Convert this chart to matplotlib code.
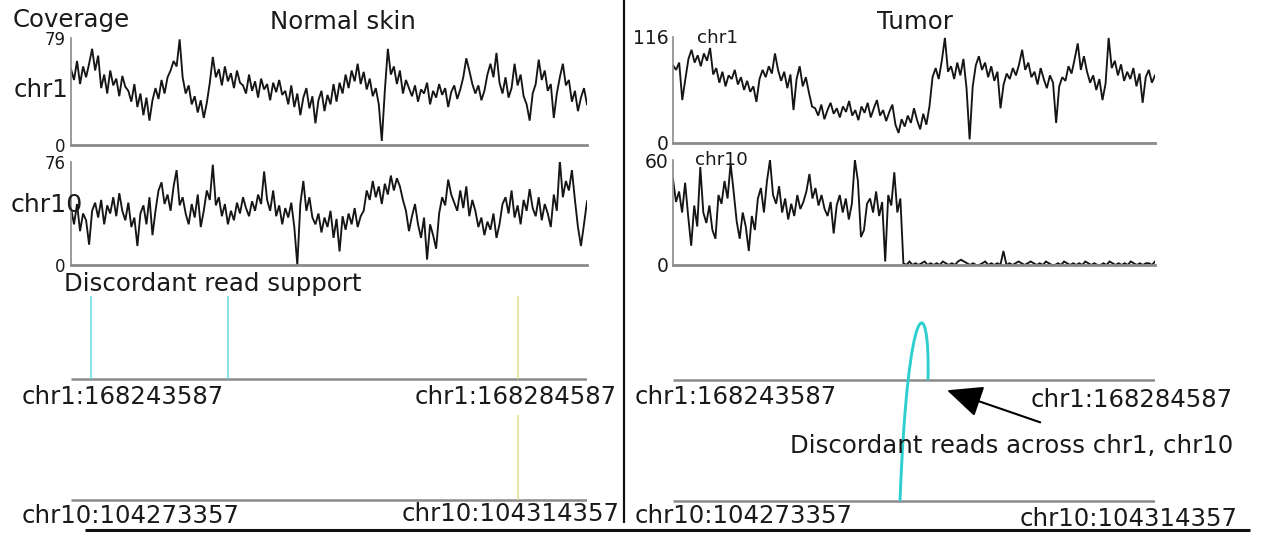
import numpy as np
import matplotlib
matplotlib.use("Agg")
import matplotlib.pyplot as plt
from matplotlib.path import Path
from matplotlib.patches import PathPatch

# ---------------------------------------------------------------- data
chr1_window = (168243587, 168284587)
chr10_window = (104273357, 104314357)

normal_chr1_max = 79
normal_chr10_max = 76
tumor_chr1_max = 116
tumor_chr10_max = 60

normal_chr1_cov = [
    56, 48, 62, 45, 58, 50, 60, 71, 55, 66, 42, 52, 38, 55, 44, 49, 36, 51, 43,
    40, 32, 45, 28, 38, 22, 35, 18, 33, 42, 34, 48, 38, 50, 55, 62, 58, 78,
    50, 38, 44, 30, 36, 24, 33, 20, 31, 46, 65, 50, 56, 44, 58, 47, 53, 42, 55, 46,
    44, 38, 52, 40, 47, 35, 49, 41, 45, 33, 46, 39, 48, 37,
    40, 30, 44, 28, 38, 22, 35, 42, 27, 36, 16, 33, 40, 25, 37, 30, 45, 32,
    46, 38, 52, 42, 55, 47, 60, 45, 54, 41, 49, 36, 42, 30, 3, 40, 71, 52, 58,
    45, 55, 38, 48, 42, 36, 44, 32, 41, 38, 46, 30, 40, 35, 45, 37, 42, 28, 39, 44, 34, 41,
    50, 64, 55, 45, 38, 44, 33, 40, 52, 60, 50, 68, 46, 38, 50, 35, 42,
    60, 44, 52, 36, 30, 18, 38, 45, 63, 48, 55, 40, 45, 20, 38, 50,
    60, 44, 48, 32, 40, 25, 35, 42, 30,
]

normal_chr10_cov = [
    42, 30, 45, 25, 38, 33, 15, 40, 46, 35, 48, 30, 44, 38, 50,
    36, 53, 40, 33, 46, 28, 35, 14, 38, 44, 30, 50, 22, 40,
    55, 61, 45, 52, 40, 58, 70, 44, 50, 38, 30, 45, 35, 52, 28, 40,
    55, 48, 74, 44, 50, 36, 45, 30, 40, 33, 46, 38, 50, 42, 36, 47,
    40, 52, 45, 69, 48, 40, 55, 36, 44, 30, 42, 35, 46, 28, 0, 45,
    62, 40, 50, 35, 30, 38, 24, 35, 28, 40, 20, 34, 10, 36, 26, 38, 30, 42, 28, 36,
    40, 55, 48, 62, 50, 58, 45, 60, 52, 66, 55, 64, 58, 48, 40, 25, 36, 45, 30, 20,
    35, 4, 30, 22, 12, 38, 50, 44, 63, 52, 46, 40, 55, 42, 58, 36, 48, 40,
    28, 35, 22, 32, 26, 38, 20, 30, 45,
    50, 38, 55, 35, 44, 30, 48, 40, 56, 42, 36, 50, 33, 45, 38, 28, 52, 40,
    77, 50, 62, 55, 70, 48, 28, 14, 30, 47,
]

tumor_chr1_cov = [
    85, 80, 88, 47, 70, 92, 102, 88, 96, 84, 98, 90, 104,
    75, 82, 66, 78, 62, 74, 70, 80, 64, 72, 58, 68, 56, 62, 45,
    70, 80, 72, 84, 76, 98, 80, 68, 78, 60, 75, 36, 70, 84, 62, 72, 55, 40,
    38, 30, 42, 26, 36, 44, 32, 38, 28, 40, 34, 46, 30, 36, 25, 40, 33, 44, 28, 38,
    47, 30, 36, 24, 34, 42,
    20, 11, 26, 18, 30, 22, 38, 25, 15, 32, 20, 40,
    72, 82, 70, 90, 115, 78, 84, 70, 88, 74, 92, 60, 4, 62, 85,
    95, 80, 88, 72, 84, 68, 78, 38, 64, 76, 70, 82, 74, 86,
    102, 80, 88, 72, 78, 64, 82, 70, 60, 74, 66, 22, 62,
    72, 68, 84, 76, 92, 109, 80, 95, 78, 66, 74, 58, 70, 47, 65,
    115, 82, 90, 74, 86, 68, 78, 70, 82, 62, 76, 44, 72, 80, 66, 74,
]

tumor_chr10_cov = [
    49, 36, 42, 30, 47, 28, 11, 34, 22, 56, 30, 24, 34, 20, 15,
    40, 35, 48, 38, 58, 42, 25, 15, 30, 22, 8, 28, 20,
    38, 44, 30, 48, 60, 40, 35, 45, 30, 38, 26, 35, 28, 40, 32, 36, 42,
    52, 38, 44, 34, 40, 32, 28, 36, 18, 34, 40, 30, 38, 26, 35,
    60, 48, 16, 20, 35, 38, 30, 42, 28, 36, 2, 40, 34, 53, 30, 38,
    1, 0, 2, 0, 1, 0, 1, 2, 0, 1, 0, 1, 0, 2, 1, 0, 1, 0, 2, 3, 2, 1, 0, 1,
    0, 0, 1, 2, 0, 1, 0, 1, 0, 8, 0, 1, 0, 1, 2, 1, 0, 1, 2, 1, 0, 1, 0, 2,
    1, 0, 0, 1, 0, 2, 1, 0, 1, 0, 1, 0, 2, 1, 0, 1, 0, 0, 1, 0, 2, 1, 0, 1,
    0, 1, 0, 2, 1, 0, 1, 0, 1, 1, 0, 2,
]

# discordant read positions in the normal sample
normal_chr1_cross_reads = [168245177, 168256062]   # cyan: pairs to other chromosome
normal_chr1_local_reads = [168279104]              # yellow
normal_chr10_local_reads = [104308874]             # yellow

# junction supported by discordant pairs in the tumor
tumor_junction_chr1 = 168265277
tumor_junction_chr10 = 104292667

# ---------------------------------------------------------------- layout helpers
W, H = 1263, 533
fig = plt.figure(figsize=(W / 100, H / 100), dpi=100)
plt.rcParams["font.family"] = ["DejaVu Sans"]

TXT = "#1a1a1a"
AXGREY = "#8a8a8a"
CYAN = "#62dbe0"
ARC = "#2fcfcf"
YELLOW = "#e4df8c"
BIG = 17.6


def fx(px):
    return px / W


def fy(py):
    return 1 - py / H


def add_box(left, right, top, bottom):
    return fig.add_axes([fx(left), fy(bottom), fx(right) - fx(left), fy(top) - fy(bottom)])


def coverage_panel(box, window, values, ymax, tick_size, pad):
    ax = add_box(*box)
    x = np.linspace(window[0], window[1], len(values))
    ax.plot(x, values, color="#151515", lw=1.35, solid_joinstyle="miter")
    ax.set_xlim(window)
    ax.set_ylim(0, ymax)
    ax.set_xticks([])
    ax.set_yticks([0, ymax])
    ax.set_yticklabels(["0", str(ymax)], fontsize=tick_size, color=TXT)
    ax.tick_params(axis="y", length=0, pad=pad)
    for side in ("top", "right"):
        ax.spines[side].set_visible(False)
    ax.spines["left"].set_color(AXGREY)
    ax.spines["left"].set_linewidth(1.2)
    ax.spines["bottom"].set_color(AXGREY)
    ax.spines["bottom"].set_linewidth(2.0)
    ax.patch.set_alpha(0)
    return ax


# ---------------------------------------------------------------- coverage tracks
coverage_panel((71, 587, 38, 145), chr1_window, normal_chr1_cov, normal_chr1_max, 12, 4)
coverage_panel((71, 587, 162, 265), chr10_window, normal_chr10_cov, normal_chr10_max, 12, 4)
coverage_panel((673, 1155, 37, 143), chr1_window, tumor_chr1_cov, tumor_chr1_max, 13.5, 3)
coverage_panel((673, 1155, 160, 265), chr10_window, tumor_chr10_cov, tumor_chr10_max, 13.5, 3)

# ---------------------------------------------------------------- discordant read panels
# one axes per sample: chr10 baseline at y=0, chr1 baseline at y=1
SPAN = chr1_window[1] - chr1_window[0]
Y0, Y1 = -0.1, 1.75
row_px = 121.0


def discordant_axes(left, right, y_chr1_px):
    top = y_chr1_px - (Y1 - 1) * row_px
    bottom = y_chr1_px + (1 - Y0) * row_px
    ax = add_box(left, right, top, bottom)
    ax.set_xlim(0, SPAN)
    ax.set_ylim(Y0, Y1)
    ax.axis("off")
    ax.hlines([1, 0], 0, SPAN, color=AXGREY, lw=1.8, zorder=1)
    return ax


axL = discordant_axes(71, 587, 379)
axL.vlines([p - chr1_window[0] for p in normal_chr1_cross_reads], 1, 1.69, color=CYAN, lw=1.1)
axL.vlines([p - chr1_window[0] for p in normal_chr1_local_reads], 1, 1.69, color=YELLOW, lw=1.1)
axL.vlines([p - chr10_window[0] for p in normal_chr10_local_reads], 0, 0.70, color=YELLOW, lw=1.1)

axR = discordant_axes(673, 1155, 380)
j1 = tumor_junction_chr1 - chr1_window[0]
j10 = tumor_junction_chr10 - chr10_window[0]
arc = Path(
    [(j10, 0.0), (j10 + 680, 1.744), (j1 + 200, 1.744), (j1, 1.0)],
    [Path.MOVETO, Path.CURVE4, Path.CURVE4, Path.CURVE4],
)
axR.add_patch(PathPatch(arc, facecolor="none", edgecolor=ARC, lw=2.1, zorder=3))
axR.annotate(
    "", xy=(j1 + 1620, 0.915), xytext=(j1 + 9550, 0.65),
    arrowprops=dict(arrowstyle="-|>,head_length=1.0,head_width=0.45",
                    mutation_scale=22, color="black", lw=1.5, shrinkA=0, shrinkB=0),
)

# ---------------------------------------------------------------- text
def label(px, py, s, size=BIG, ha="left", va="center", **kw):
    fig.text(fx(px), fy(py), s, fontsize=size, ha=ha, va=va, color=TXT, **kw)


label(13, 27, "Coverage", va="baseline")
label(343, 29, "Normal skin", ha="center", va="baseline")
label(915, 29, "Tumor", ha="center", va="baseline")
label(14, 90, "chr1")
label(11, 205, "chr10", size=18.2)
label(697, 38, "chr1", size=13.2)
label(695, 160, "chr10", size=13.2)
label(64, 284, "Discordant read support")

label(22, 397, "chr1:168243587")
label(617, 397, "chr1:168284587", ha="right")
label(22, 516, "chr10:104273357")
label(620, 514, "chr10:104314357", ha="right")

label(635, 397, "chr1:168243587")
label(1233, 400, "chr1:168284587", ha="right")
label(635, 516, "chr10:104273357")
label(1238, 519, "chr10:104314357", ha="right")
label(790, 446, "Discordant reads across chr1, chr10")

# ---------------------------------------------------------------- frame lines
frame = fig.add_axes([0, 0, 1, 1])
frame.set_xlim(0, W)
frame.set_ylim(H, 0)
frame.axis("off")
frame.patch.set_alpha(0)
frame.vlines(624, 0, 523, color="#111111", lw=1.6)
frame.hlines(530, 85, 1250, color="#111111", lw=2.2)

fig.savefig("out.png", dpi=100)
